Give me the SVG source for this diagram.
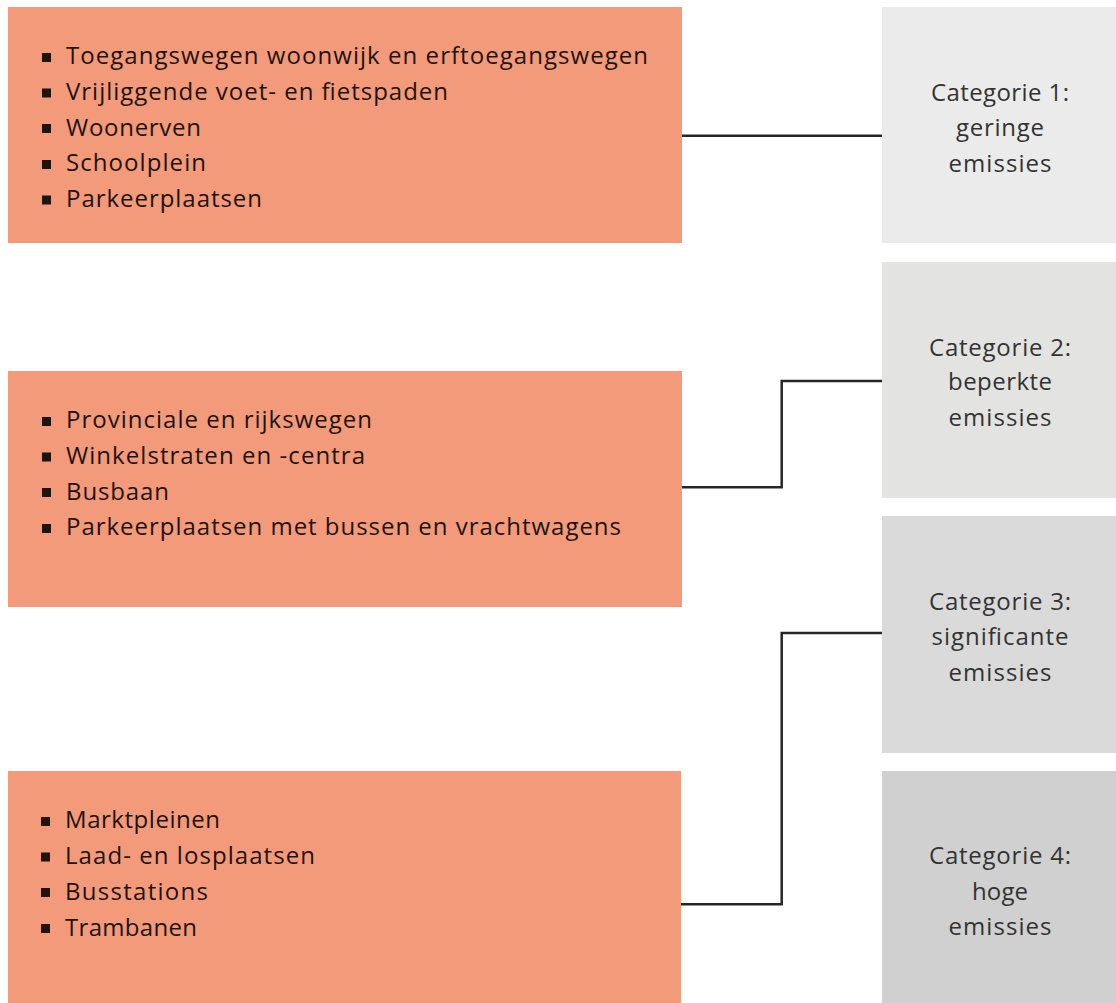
<svg xmlns="http://www.w3.org/2000/svg" width="1116" height="1003" viewBox="0 0 1116 1003">
<style>
.src{fill:#f39a7a}
.t{font-family:"Open Sans","Liberation Sans",sans-serif;font-size:24px;fill:#1e130d}
.c{font-family:"Open Sans","Liberation Sans",sans-serif;font-size:24px;fill:#333333;text-anchor:middle}
.b{fill:#1e130d}
.ln{fill:none;stroke:#262626;stroke-width:2.5}
</style>
<rect width="1116" height="1003" fill="#ffffff"/>
<g id="group1">
<rect class="src" x="8" y="7" width="674" height="236"/>
<rect class="b" x="42" y="53" width="9" height="9"/>
<rect class="b" x="42" y="88.5" width="9" height="9"/>
<rect class="b" x="42" y="124" width="9" height="9"/>
<rect class="b" x="42" y="160" width="9" height="9"/>
<rect class="b" x="42" y="195.5" width="9" height="9"/>
<text class="t" x="66" y="64.3" textLength="582" lengthAdjust="spacing">Toegangswegen woonwijk en erftoegangswegen</text>
<text class="t" x="66" y="100" textLength="382" lengthAdjust="spacing">Vrijliggende voet- en fietspaden</text>
<text class="t" x="66" y="135.7" textLength="135" lengthAdjust="spacing">Woonerven</text>
<text class="t" x="66" y="171.3" textLength="140" lengthAdjust="spacing">Schoolplein</text>
<text class="t" x="66" y="206.8" textLength="196" lengthAdjust="spacing">Parkeerplaatsen</text>
</g>
<g id="group2">
<rect class="src" x="8" y="371" width="674" height="236"/>
<rect class="b" x="42" y="417" width="9" height="9"/>
<rect class="b" x="42" y="452.5" width="9" height="9"/>
<rect class="b" x="42" y="488" width="9" height="9"/>
<rect class="b" x="42" y="524" width="9" height="9"/>
<text class="t" x="66" y="428.3" textLength="306" lengthAdjust="spacing">Provinciale en rijkswegen</text>
<text class="t" x="66" y="464" textLength="299" lengthAdjust="spacing">Winkelstraten en -centra</text>
<text class="t" x="66" y="499.7" textLength="103" lengthAdjust="spacing">Busbaan</text>
<text class="t" x="66" y="535.3" textLength="555" lengthAdjust="spacing">Parkeerplaatsen met bussen en vrachtwagens</text>
</g>
<g id="group3">
<rect class="src" x="8" y="771" width="673" height="232"/>
<rect class="b" x="41" y="817" width="9" height="9"/>
<rect class="b" x="41" y="852.5" width="9" height="9"/>
<rect class="b" x="41" y="888" width="9" height="9"/>
<rect class="b" x="41" y="924" width="9" height="9"/>
<text class="t" x="65" y="828.3" textLength="155" lengthAdjust="spacing">Marktpleinen</text>
<text class="t" x="65" y="864" textLength="250" lengthAdjust="spacing">Laad- en losplaatsen</text>
<text class="t" x="65" y="899.5" textLength="143" lengthAdjust="spacing">Busstations</text>
<text class="t" x="65" y="935.5" textLength="132" lengthAdjust="spacing">Trambanen</text>
</g>
<g id="cat1">
<rect x="882" y="7" width="234" height="236" fill="#ebebeb"/>
<text class="c" x="1000" y="101" textLength="138" lengthAdjust="spacing">Categorie 1:</text>
<text class="c" x="1000" y="136.3" textLength="88" lengthAdjust="spacing">geringe</text>
<text class="c" x="1000" y="171.7" textLength="103" lengthAdjust="spacing">emissies</text>
</g>
<g id="cat2">
<rect x="882" y="262" width="234" height="236" fill="#e3e3e2"/>
<text class="c" x="1000" y="355.7" textLength="142" lengthAdjust="spacing">Categorie 2:</text>
<text class="c" x="1000" y="390.3" textLength="104" lengthAdjust="spacing">beperkte</text>
<text class="c" x="1000" y="425.7" textLength="103" lengthAdjust="spacing">emissies</text>
</g>
<g id="cat3">
<rect x="882" y="516" width="234" height="237" fill="#dadada"/>
<text class="c" x="1000" y="610" textLength="142" lengthAdjust="spacing">Categorie 3:</text>
<text class="c" x="1000" y="645.3" textLength="137" lengthAdjust="spacing">significante</text>
<text class="c" x="1000" y="681" textLength="103" lengthAdjust="spacing">emissies</text>
</g>
<g id="cat4">
<rect x="882" y="771" width="234" height="232" fill="#d0d0d0"/>
<text class="c" x="1000" y="864.3" textLength="142" lengthAdjust="spacing">Categorie 4:</text>
<text class="c" x="1000" y="899.7" textLength="56" lengthAdjust="spacing">hoge</text>
<text class="c" x="1000" y="935" textLength="103" lengthAdjust="spacing">emissies</text>
</g>
<g id="connectors">
<path class="ln" d="M682 135.7H882"/>
<path class="ln" d="M682 487.3H781.7V381H882"/>
<path class="ln" d="M681 904.3H781.7V633H882"/>
</g>
</svg>
